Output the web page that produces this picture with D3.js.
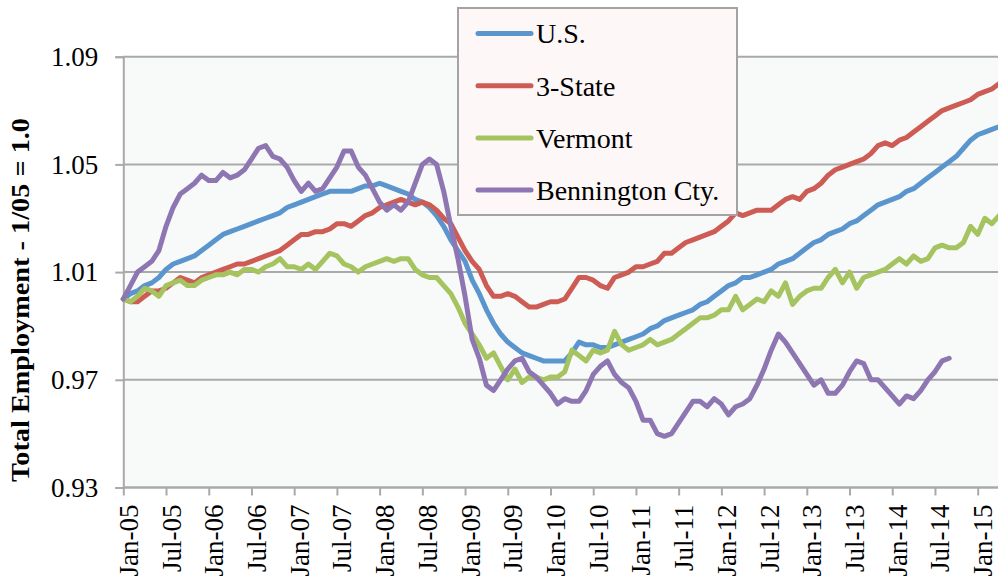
<!DOCTYPE html>
<html>
<head>
<meta charset="utf-8">
<script src="https://cdn.jsdelivr.net/npm/d3@7"></script>
<style>
  body { margin: 0; background: #fff; }
  svg { display: block; font-family: "Liberation Serif", "Times New Roman", serif; }
</style>
</head>
<body>
<div id="chart"></div>
<script>
// monthly index, Jan-05 = 1.0
var usVals = [
  1.000, 1.002, 1.003, 1.005, 1.006, 1.008, 1.011, 1.013, 1.014, 1.015, 1.016, 1.018,
  1.020, 1.022, 1.024, 1.025, 1.026, 1.027, 1.028, 1.029, 1.030, 1.031, 1.032, 1.034,
  1.035, 1.036, 1.037, 1.038, 1.039, 1.040, 1.040, 1.040, 1.040, 1.041, 1.042, 1.042,
  1.043, 1.042, 1.041, 1.040, 1.039, 1.037, 1.036, 1.034, 1.031, 1.027, 1.022, 1.018,
  1.014, 1.007, 1.002, 0.996, 0.991, 0.987, 0.984, 0.982, 0.980, 0.979, 0.978, 0.977,
  0.977, 0.977, 0.977, 0.980, 0.984, 0.983, 0.983, 0.982, 0.982, 0.983, 0.984, 0.985,
  0.986, 0.987, 0.989, 0.990, 0.992, 0.993, 0.994, 0.995, 0.996, 0.998, 0.999, 1.001,
  1.003, 1.005, 1.006, 1.008, 1.008, 1.009, 1.010, 1.011, 1.013, 1.014, 1.015, 1.017,
  1.019, 1.021, 1.022, 1.024, 1.025, 1.026, 1.028, 1.029, 1.031, 1.033, 1.035, 1.036,
  1.037, 1.038, 1.040, 1.041, 1.043, 1.045, 1.047, 1.049, 1.051, 1.053, 1.056, 1.059,
  1.061, 1.062, 1.063, 1.064
];

var threeStateVals = [
  1.000, 0.999, 0.999, 1.001, 1.003, 1.003, 1.004, 1.006, 1.008, 1.007, 1.006, 1.008,
  1.009, 1.010, 1.011, 1.012, 1.013, 1.013, 1.014, 1.015, 1.016, 1.017, 1.018, 1.020,
  1.022, 1.024, 1.024, 1.025, 1.025, 1.026, 1.028, 1.028, 1.027, 1.029, 1.031, 1.032,
  1.034, 1.035, 1.036, 1.037, 1.036, 1.035, 1.036, 1.035, 1.033, 1.030, 1.028, 1.023,
  1.018, 1.014, 1.011, 1.005, 1.001, 1.001, 1.002, 1.001, 0.999, 0.997, 0.997, 0.998,
  0.999, 0.999, 1.000, 1.004, 1.008, 1.008, 1.007, 1.005, 1.004, 1.008, 1.009, 1.010,
  1.012, 1.012, 1.013, 1.014, 1.017, 1.017, 1.019, 1.021, 1.022, 1.023, 1.024, 1.025,
  1.027, 1.029, 1.032, 1.031, 1.032, 1.033, 1.033, 1.033, 1.035, 1.037, 1.038, 1.037,
  1.040, 1.041, 1.043, 1.046, 1.048, 1.049, 1.050, 1.051, 1.052, 1.054, 1.057, 1.058,
  1.057, 1.059, 1.060, 1.062, 1.064, 1.066, 1.068, 1.070, 1.071, 1.072, 1.073, 1.074,
  1.076, 1.077, 1.078, 1.080
];

var vermontVals = [
  1.000, 0.999, 1.001, 1.004, 1.003, 1.001, 1.005, 1.006, 1.007, 1.005, 1.005, 1.007,
  1.008, 1.009, 1.009, 1.010, 1.009, 1.011, 1.011, 1.010, 1.012, 1.013, 1.015, 1.012,
  1.012, 1.011, 1.013, 1.011, 1.014, 1.017, 1.016, 1.013, 1.012, 1.010, 1.012, 1.013,
  1.014, 1.015, 1.014, 1.015, 1.015, 1.011, 1.009, 1.008, 1.008, 1.005, 1.002, 0.997,
  0.991, 0.987, 0.983, 0.978, 0.980, 0.975, 0.970, 0.974, 0.969, 0.971, 0.971, 0.970,
  0.971, 0.971, 0.973, 0.981, 0.979, 0.977, 0.981, 0.980, 0.981, 0.988, 0.983, 0.981,
  0.982, 0.983, 0.985, 0.983, 0.984, 0.985, 0.987, 0.989, 0.991, 0.993, 0.993, 0.994,
  0.996, 0.996, 1.001, 0.996, 0.998, 1.000, 0.999, 1.003, 1.001, 1.006, 0.998, 1.001,
  1.003, 1.004, 1.004, 1.008, 1.011, 1.006, 1.010, 1.004, 1.008, 1.009, 1.010, 1.011,
  1.013, 1.015, 1.013, 1.016, 1.014, 1.015, 1.019, 1.020, 1.019, 1.019, 1.021, 1.027,
  1.024, 1.030, 1.028, 1.031
];

var benningtonVals = [
  1.000, 1.005, 1.010, 1.012, 1.014, 1.018, 1.027, 1.034, 1.039, 1.041, 1.043, 1.046,
  1.044, 1.044, 1.047, 1.045, 1.046, 1.048, 1.052, 1.056, 1.057, 1.053, 1.052, 1.049,
  1.044, 1.040, 1.043, 1.040, 1.041, 1.045, 1.049, 1.055, 1.055, 1.049, 1.046, 1.041,
  1.036, 1.033, 1.035, 1.033, 1.036, 1.043, 1.050, 1.052, 1.050, 1.040, 1.027, 1.015,
  1.001, 0.985, 0.978, 0.968, 0.966, 0.970, 0.974, 0.977, 0.978, 0.973, 0.971, 0.968,
  0.965, 0.961, 0.963, 0.962, 0.962, 0.966, 0.972, 0.975, 0.977, 0.972, 0.969, 0.967,
  0.962, 0.955, 0.955, 0.950, 0.949, 0.950, 0.954, 0.958, 0.962, 0.962, 0.960, 0.963,
  0.961, 0.957, 0.960, 0.961, 0.963, 0.968, 0.974, 0.981, 0.987, 0.984, 0.980, 0.976,
  0.972, 0.968, 0.970, 0.965, 0.965, 0.968, 0.973, 0.977, 0.976, 0.970, 0.970, 0.967,
  0.964, 0.961, 0.964, 0.963, 0.966, 0.970, 0.973, 0.977, 0.978
];

var seriesNames = ["U.S.", "3-State", "Vermont", "Bennington Cty."];
var seriesColors = ["#5a96cd", "#cd5c55", "#a5c35f", "#8e76b3"];

var yTicks = [0.93, 0.97, 1.01, 1.05, 1.09];
var xTickLabels = [
  "Jan-05", "Jul-05", "Jan-06", "Jul-06", "Jan-07", "Jul-07", "Jan-08",
  "Jul-08", "Jan-09", "Jul-09", "Jan-10", "Jul-10", "Jan-11", "Jul-11",
  "Jan-12", "Jul-12", "Jan-13", "Jul-13", "Jan-14", "Jul-14", "Jan-15"
];

var W = 998, H = 581;
var plotRight = 998;

var svg = d3.select("#chart").append("svg")
  .attr("width", W)
  .attr("height", H);

var x = d3.scaleLinear().domain([0, 120]).range([123.3, 977.7]);
var y = d3.scaleLinear().domain([0.93, 1.09]).range([487.5, 56.7]);

//plot background
svg.append("rect")
  .attr("x", x(0))
  .attr("y", y(1.09))
  .attr("width", plotRight - x(0))
  .attr("height", y(0.93) - y(1.09))
  .attr("fill", "#f8fafa");

//gridlines
svg.append("g")
  .selectAll("line")
  .data(yTicks)
  .join("line")
  .attr("x1", x(0))
  .attr("x2", plotRight)
  .attr("y1", d => y(d))
  .attr("y2", d => y(d))
  .attr("stroke", "#a9a9a9")
  .attr("stroke-width", 2);

//y axis
var yAxis = svg.append("g")
  .attr("transform", "translate(" + x(0) + ",0)")
  .call(d3.axisLeft(y).tickValues(yTicks).tickSize(8).tickPadding(17).tickFormat(d3.format(".2f")));
yAxis.select(".domain").attr("stroke", "#a9a9a9").attr("stroke-width", 2);
yAxis.selectAll(".tick line").attr("stroke", "#a9a9a9").attr("stroke-width", 2);
yAxis.selectAll(".tick text")
  .attr("font-family", "Liberation Serif")
  .attr("font-size", 27)
  .attr("fill", "#000");

//x axis
var xTickIdx = xTickLabels.map((d, i) => i * 6);
var xAxis = svg.append("g")
  .attr("transform", "translate(0," + y(0.93) + ")")
  .call(d3.axisBottom(x).tickValues(xTickIdx).tickSize(8).tickFormat((d, i) => xTickLabels[i]));
xAxis.select(".domain").attr("d", "M" + x(0) + ",0H" + plotRight)
  .attr("stroke", "#a9a9a9").attr("stroke-width", 2);
xAxis.selectAll(".tick line").attr("stroke", "#a9a9a9").attr("stroke-width", 2);
xAxis.selectAll(".tick text")
  .attr("font-family", "Liberation Serif")
  .attr("font-size", 27)
  .attr("fill", "#000")
  .attr("text-anchor", "end")
  .attr("transform", "translate(0,17) rotate(-90)")
  .attr("x", 0)
  .attr("y", 0)
  .attr("dy", "14px");

//y title
svg.append("text")
  .attr("transform", "translate(29,300) rotate(-90)")
  .attr("text-anchor", "middle")
  .attr("font-family", "Liberation Serif")
  .attr("font-weight", "bold")
  .attr("font-size", 25)
  .attr("textLength", 364)
  .attr("lengthAdjust", "spacingAndGlyphs")
  .attr("fill", "#000")
  .text("Total Employment - 1/05 = 1.0");

//lines
var allSeries = [usVals, threeStateVals, vermontVals, benningtonVals];
var line = d3.line()
  .x((d, i) => x(i))
  .y(d => y(d));

svg.append("g")
  .selectAll("path")
  .data(allSeries)
  .join("path")
  .attr("d", d => line(d))
  .attr("fill", "none")
  .attr("stroke", (d, i) => seriesColors[i])
  .attr("stroke-width", 5)
  .attr("stroke-linejoin", "round")
  .attr("stroke-linecap", "round");

//legend
var legend = svg.append("g");
legend.append("rect")
  .attr("x", 458)
  .attr("y", 8)
  .attr("width", 279)
  .attr("height", 207)
  .attr("fill", "#fdf7f7")
  .attr("stroke", "#a3a3a3")
  .attr("stroke-width", 2);

var items = legend.selectAll("g.item")
  .data(seriesNames)
  .join("g")
  .attr("class", "item")
  .attr("transform", (d, i) => "translate(0," + (33.5 + i * 52.2) + ")");

items.append("line")
  .attr("x1", 478)
  .attr("x2", 531)
  .attr("stroke", (d, i) => seriesColors[i])
  .attr("stroke-width", 5)
  .attr("stroke-linecap", "round");

items.append("text")
  .attr("x", 536)
  .attr("dy", "0.35em")
  .attr("font-family", "Liberation Serif")
  .attr("font-size", 28)
  .attr("fill", "#000")
  .text(d => d);
</script>
</body>
</html>
